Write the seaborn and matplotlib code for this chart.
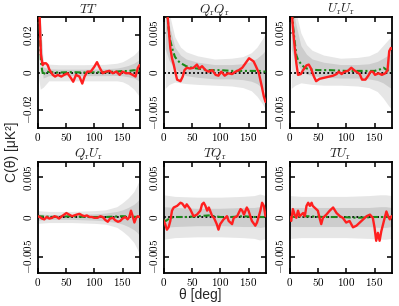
import numpy as np
import pandas as pd
import matplotlib
matplotlib.use("Agg")
import matplotlib.pyplot as plt
from matplotlib.ticker import FixedLocator, FixedFormatter
import seaborn as sns

# ---------------- data ----------------
titles = [r"$TT$", r"$Q_{\rm r}Q_{\rm r}$", r"$U_{\rm r}U_{\rm r}$",
          r"$Q_{\rm r}U_{\rm r}$", r"$TQ_{\rm r}$", r"$TU_{\rm r}$"]
x_ticks = [0, 50, 100, 150]
x_tick_labels = ["0", "50", "100", "150"]
y_ticks_tt = [-0.02, 0, 0.02]
y_tick_labels_tt = ["-0.02", "0", "0.02"]
y_ticks_pol = [-0.005, 0, 0.005]
y_tick_labels_pol = ["-0.005", "0", "0.005"]

# TT
tt_red_x = [2, 4, 6, 9, 12, 15, 18, 21, 27, 31, 36, 42, 47, 53, 59, 63, 68, 74, 79, 83, 88, 94, 100, 105,
            109, 115, 121, 127, 133, 139, 145, 150, 156, 162, 168, 173, 177, 180]
tt_red_y = [0.045, 0.028, 0.01, 0.004, 0.005, 0.005, 0.004, 0.0015, -0.0013, -0.0022, -0.0013, -0.0022,
            -0.0013, -0.0004, -0.003, -0.005, -0.0013, -0.0022, -0.006, -0.0022, 0.0005, 0.0005, 0.003,
            0.0056, 0.003, -0.0004, 0.0005, 0.0009, -0.0004, 0.0005, -0.0013, 0.0005, -0.0004, -0.0004,
            -0.0013, -0.0022, 0.0024, 0.004]
tt_green_x = [2, 4, 6, 8, 10, 14, 20, 30, 40, 60, 80, 100, 120, 140, 150, 160, 170, 175, 180]
tt_green_y = [0.045, 0.025, 0.006, 0.0015, -0.0015, 0.0005, 0.0003, 0.0, 0.0, 0.0002, 0.0, 0.0001,
              0.0002, 0.0005, 0.0008, 0.0008, 0.0012, 0.0012, 0.0008]
tt_band_x = [2, 5, 10, 20, 40, 80, 120, 140, 150, 160, 170, 175, 180]
tt_hi2 = [0.05, 0.03, 0.006, 0.0045, 0.0042, 0.0042, 0.0044, 0.005, 0.0058, 0.0075, 0.0095, 0.011, 0.013]
tt_hi1 = [0.048, 0.028, 0.003, 0.002, 0.0018, 0.0018, 0.002, 0.0024, 0.003, 0.0038, 0.005, 0.006, 0.007]
tt_lo1 = [0.03, 0.01, -0.003, -0.0017, -0.0017, -0.0017, -0.0017, -0.0016, -0.0018, -0.0023, -0.003, -0.0038, -0.005]
tt_lo2 = [-0.003, -0.009, -0.008, -0.0045, -0.0045, -0.0045, -0.0045, -0.0045, -0.005, -0.0065, -0.009, -0.011, -0.013]

# QrQr
qq_red_x = [5, 8, 10, 12, 15, 18, 21, 24, 30, 34, 37, 41, 47, 53, 59, 63, 68, 74, 80, 86, 92, 97, 102,
            108, 114, 121, 127, 133, 139, 143, 147, 151, 155, 159, 163, 168, 173, 177, 180]
qq_red_y = [0.009, 0.0065, 0.0048, 0.0031, 0.0018, 0.001, 0.0, -0.0009, -0.0011, -0.0005, 0.0003, 0.0006,
            0.0005, 0.0006, 0.001, 0.0005, 0.0008, 0.0003, 0.0001, 0.0003, -0.0003, -0.0004, 0.0001,
            -0.0004, -0.0001, -0.0002, 0.0001, 0.0003, 0.0006, 0.001, 0.0014, 0.0018, 0.0016, 0.0014,
            0.0008, 0.0, -0.0016, -0.003, -0.0037]
qq_green_x = [3, 6, 9, 12, 16, 20, 25, 30, 40, 50, 60, 80, 100, 120, 140, 160, 170, 180]
qq_green_y = [0.012, 0.008, 0.0055, 0.004, 0.0029, 0.002, 0.0015, 0.0012, 0.0008, 0.0006, 0.0005,
              0.0003, 0.0003, 0.0002, 0.0002, 0.0002, 0.0002, 0.0001]
qq_band_x = [3, 10, 20, 30, 40, 60, 90, 120, 140, 155, 165, 175, 180]
qq_hi2 = [0.012, 0.0075, 0.0045, 0.0032, 0.0026, 0.0021, 0.0017, 0.0018, 0.002, 0.0025, 0.0032, 0.0043, 0.005]
qq_hi1 = [0.010, 0.006, 0.0032, 0.0022, 0.0017, 0.0013, 0.001, 0.001, 0.0011, 0.0014, 0.0018, 0.0024, 0.0028]
qq_lo1 = [0.003, 0.0015, 0.0005, 0.0, -0.0004, -0.0006, -0.0008, -0.0008, -0.0009, -0.0011, -0.0014, -0.002, -0.0025]
qq_lo2 = [-0.002, -0.0015, -0.0012, -0.0013, -0.0014, -0.0015, -0.0016, -0.0017, -0.0019, -0.0023, -0.003, -0.004, -0.0046]

# UrUr
uu_red_x = [3, 6, 9, 12, 15, 20, 24, 30, 34, 38, 43, 47, 53, 59, 65, 71, 77, 83, 87, 92, 97, 103, 109,
            114, 118, 124, 128, 134, 139, 143, 147, 151, 157, 163, 169, 173, 176, 179, 180]
uu_red_y = [0.009, 0.0056, 0.0033, 0.0012, -0.0003, -0.0002, 0.0003, 0.0009, 0.001, 0.0005, -0.0005,
            -0.0011, -0.0008, -0.0007, -0.0006, -0.0005, -0.0004, -0.0002, 0.0001, -0.0002, 0.0001,
            0.0002, 0.0006, 0.0003, 0.0001, -0.0002, -0.0009, -0.0009, -0.0004, 0.0001, 0.0001,
            -0.0003, -0.0001, -0.0003, -0.0001, 0.0003, 0.0027, 0.0031, 0.003]
uu_green_x = [3, 6, 9, 12, 15, 21, 27, 35, 50, 70, 100, 130, 150, 160, 166, 172, 180]
uu_green_y = [0.011, 0.006, 0.004, 0.0022, 0.0016, 0.001, 0.0006, 0.0004, 0.0003, 0.0003, 0.0002,
              0.0002, 0.0002, 0.0004, 0.0006, 0.0003, 0.0001]
uu_band_x = [3, 10, 20, 30, 40, 60, 90, 120, 140, 155, 165, 175, 180]
uu_hi2 = [0.012, 0.008, 0.005, 0.0035, 0.0028, 0.0022, 0.0018, 0.0019, 0.0021, 0.0026, 0.0034, 0.0042, 0.0045]
uu_hi1 = [0.010, 0.0065, 0.0034, 0.0023, 0.0017, 0.0013, 0.001, 0.001, 0.0011, 0.0014, 0.0018, 0.0022, 0.0024]
uu_lo1 = [0.003, 0.0015, 0.0004, -0.0002, -0.0004, -0.0006, -0.0007, -0.0007, -0.0008, -0.001, -0.0013, -0.0018, -0.002]
uu_lo2 = [-0.002, -0.0016, -0.0013, -0.0014, -0.0015, -0.0016, -0.0016, -0.0017, -0.0019, -0.0024, -0.0032, -0.0042, -0.0046]

# QrUr
qu_red_x = [0, 4, 8, 12, 16, 21, 26, 30, 34, 38, 43, 47, 51, 56, 61, 65, 69, 74, 79, 83, 87, 92, 96, 100,
            106, 111, 115, 120, 124, 128, 133, 137, 142, 146, 150, 155, 159, 162, 165, 168, 171, 174, 177, 180]
qu_red_y = [0.0001, 0.0, -0.0002, -0.0003, 0.0, -0.0002, -0.0001, 0.0001, 0.0, -0.0002, 0.0001, 0.0003,
            0.0005, 0.0003, 0.0001, 0.0002, 0.0003, 0.0004, 0.0002, 0.0001, 0.0002, 0.0, 0.0, -0.0001,
            -0.0001, 0.0001, 0.0, -0.0004, -0.0006, -0.0002, -0.0001, -0.0004, -0.0006, -0.0005,
            -0.0002, 0.0, -0.0003, 0.0, 0.0008, 0.0001, -0.0007, -0.0001, 0.0001, 0.0]
qu_green_x = [0, 30, 60, 90, 120, 150, 180]
qu_green_y = [0.0001, 0.0, 0.0001, 0.0, 0.0, 0.0001, 0.0]
qu_band_x = [0, 20, 60, 100, 120, 140, 150, 160, 170, 175, 180]
qu_s2 = [0.0008, 0.0007, 0.0007, 0.0008, 0.0009, 0.0013, 0.0018, 0.0024, 0.0032, 0.0039, 0.0047]
qu_s1 = [0.0004, 0.0003, 0.0003, 0.0004, 0.0005, 0.0007, 0.0009, 0.0012, 0.0016, 0.0019, 0.0023]

# TQr
tq_red_x = [0, 3, 6, 9, 12, 15, 18, 24, 30, 33, 38, 41, 47, 53, 59, 65, 68, 71, 74, 77, 80, 86, 89, 94,
            97, 100, 106, 112, 115, 121, 124, 130, 136, 139, 142, 147, 150, 156, 162, 165, 171, 174, 177, 180]
tq_red_y = [-0.0004, -0.0009, -0.0016, -0.0013, -0.0005, 0.0008, 0.0012, 0.0014, 0.0018, 0.0017, 0.0012,
            0.0016, 0.001, 0.0001, 0.0003, 0.0008, 0.0016, 0.0018, 0.0014, 0.0008, 0.0012, 0.0001,
            -0.0001, -0.0009, -0.0016, -0.0009, -0.0003, 0.0001, -0.0005, -0.0009, -0.0001, 0.0001,
            0.001, 0.0008, 0.0003, 0.0012, 0.0008, -0.0005, -0.0011, -0.0007, 0.0008, 0.0018, 0.0014, 0.0001]
tq_green_x = [0, 4, 8, 12, 20, 40, 60, 80, 100, 120, 140, 160, 180]
tq_green_y = [-0.0004, -0.0005, -0.0003, -0.0001, 0.0, 0.0, 0.0001, 0.0002, 0.0, 0.0, 0.0001, 0.0, 0.0]
tq_band_x = [0, 20, 60, 100, 140, 160, 170, 180]
tq_s2 = [0.0028, 0.0026, 0.0025, 0.0025, 0.0026, 0.0027, 0.0029, 0.0027]
tq_s1 = [0.0013, 0.0012, 0.0011, 0.0011, 0.0012, 0.0012, 0.0013, 0.0012]

# TUr
tu_red_x = [0, 3, 6, 9, 12, 15, 18, 24, 27, 30, 33, 36, 39, 41, 44, 50, 53, 56, 59, 65, 71, 77, 83, 89,
            94, 100, 106, 112, 118, 124, 130, 136, 142, 147, 150, 153, 156, 159, 162, 168, 171, 174, 177, 180]
tu_red_y = [0.0, -0.0005, 0.001, 0.0003, -0.0001, 0.0008, 0.0001, 0.0005, 0.0001, 0.0014, 0.0018, 0.0014,
            0.0018, 0.0014, 0.0012, 0.0008, -0.0001, -0.0009, -0.0001, 0.0003, 0.0008, 0.0012, 0.0005,
            0.0001, -0.0001, -0.0007, -0.0005, -0.0013, -0.0011, -0.0007, -0.0003, 0.0001, 0.0003,
            -0.0001, -0.0013, -0.003, -0.002, -0.003, -0.0018, -0.0001, 0.0007, 0.0001, -0.0003, 0.0001]
tu_green_x = [0, 30, 60, 90, 120, 150, 180]
tu_green_y = [0.0, 0.0001, 0.0, 0.0, -0.0001, 0.0, 0.0]
tu_band_x = [0, 20, 60, 100, 140, 160, 170, 180]
tu_s2 = [0.0027, 0.0026, 0.0026, 0.0026, 0.0027, 0.0028, 0.0028, 0.0027]
tu_s1 = [0.0012, 0.0012, 0.0012, 0.0012, 0.0012, 0.0013, 0.0013, 0.0012]

# ---------------- style ----------------
sns.set_theme(style="ticks")
plt.rcParams.update({
    "mathtext.fontset": "cm",
    "font.family": ["Liberation Sans", "DejaVu Sans"],
    "axes.linewidth": 1.2,
    "axes.edgecolor": "black",
})

RED = "#ff1f1f"
GREEN = "#1a8a1a"
LIGHT = "#e6e6e6"
DARK = "#cdcdcd"

fig = plt.figure(figsize=(3.99, 3.06), dpi=100)
W, H = 102 / 399, 111 / 306
lefts = [37.5 / 399, 163.5 / 399, 289.5 / 399]
bottoms = [1 - 128 / 306, 1 - 272.5 / 306]

panels = [
    dict(rx=tt_red_x, ry=tt_red_y, gx=tt_green_x, gy=tt_green_y, bx=tt_band_x,
         lo2=tt_lo2, lo1=tt_lo1, hi1=tt_hi1, hi2=tt_hi2, ylim=0.03, yt=y_ticks_tt, ytl=y_tick_labels_tt),
    dict(rx=qq_red_x, ry=qq_red_y, gx=qq_green_x, gy=qq_green_y, bx=qq_band_x,
         lo2=qq_lo2, lo1=qq_lo1, hi1=qq_hi1, hi2=qq_hi2, ylim=0.007, yt=y_ticks_pol, ytl=y_tick_labels_pol),
    dict(rx=uu_red_x, ry=uu_red_y, gx=uu_green_x, gy=uu_green_y, bx=uu_band_x,
         lo2=uu_lo2, lo1=uu_lo1, hi1=uu_hi1, hi2=uu_hi2, ylim=0.007, yt=y_ticks_pol, ytl=y_tick_labels_pol),
    dict(rx=qu_red_x, ry=qu_red_y, gx=qu_green_x, gy=qu_green_y, bx=qu_band_x,
         lo2=[-v for v in qu_s2], lo1=[-v for v in qu_s1], hi1=qu_s1, hi2=qu_s2,
         ylim=0.007, yt=y_ticks_pol, ytl=y_tick_labels_pol),
    dict(rx=tq_red_x, ry=tq_red_y, gx=tq_green_x, gy=tq_green_y, bx=tq_band_x,
         lo2=[-v for v in tq_s2], lo1=[-v for v in tq_s1], hi1=tq_s1, hi2=tq_s2,
         ylim=0.007, yt=y_ticks_pol, ytl=y_tick_labels_pol),
    dict(rx=tu_red_x, ry=tu_red_y, gx=tu_green_x, gy=tu_green_y, bx=tu_band_x,
         lo2=[-v for v in tu_s2], lo1=[-v for v in tu_s1], hi1=tu_s1, hi2=tu_s2,
         ylim=0.007, yt=y_ticks_pol, ytl=y_tick_labels_pol),
]

for i, p in enumerate(panels):
    r, c = divmod(i, 3)
    ax = fig.add_axes([lefts[c], bottoms[r], W, H])
    ax.fill_between(p["bx"], p["lo2"], p["hi2"], color=LIGHT, lw=0, zorder=1)
    ax.fill_between(p["bx"], p["lo1"], p["hi1"], color=DARK, lw=0, zorder=1.5)
    ax.axhline(0, color="black", ls=(0, (1, 1.3)), lw=1.3, zorder=2)
    sns.lineplot(x=p["gx"], y=p["gy"], ax=ax, color=GREEN, lw=1.5,
                 linestyle=(0, (3, 1.3, 1, 1.3)), zorder=3)
    sns.lineplot(x=p["rx"], y=p["ry"], ax=ax, color=RED, lw=1.7, zorder=4)
    ax.set_xlim(0, 180)
    ax.set_ylim(-p["ylim"], p["ylim"])
    ax.xaxis.set_major_locator(FixedLocator(x_ticks))
    ax.xaxis.set_major_formatter(FixedFormatter(["$%s$" % s for s in x_tick_labels]))
    ax.yaxis.set_major_locator(FixedLocator(p["yt"]))
    ax.yaxis.set_major_formatter(FixedFormatter(["$%s$" % s for s in p["ytl"]]))
    ax.tick_params(direction="in", top=True, right=True, length=3.5, width=1.1,
                   labelsize=8, pad=2.5, colors="black")
    for lab in ax.get_yticklabels():
        lab.set_rotation(90)
        lab.set_va("center")
    ax.set_xlabel("")
    ax.set_ylabel("")
    ax.set_title(titles[i], fontsize=9.5, pad=3)
    for s in ax.spines.values():
        s.set_linewidth(1.3)

fig.text(0.503, 0.036, "θ [deg]", ha="center", va="center", fontsize=10)
fig.text(0.031, 0.503, "C(θ) [μK²]", ha="center", va="center", rotation=90, fontsize=10)

fig.savefig("out.png", dpi=100)
